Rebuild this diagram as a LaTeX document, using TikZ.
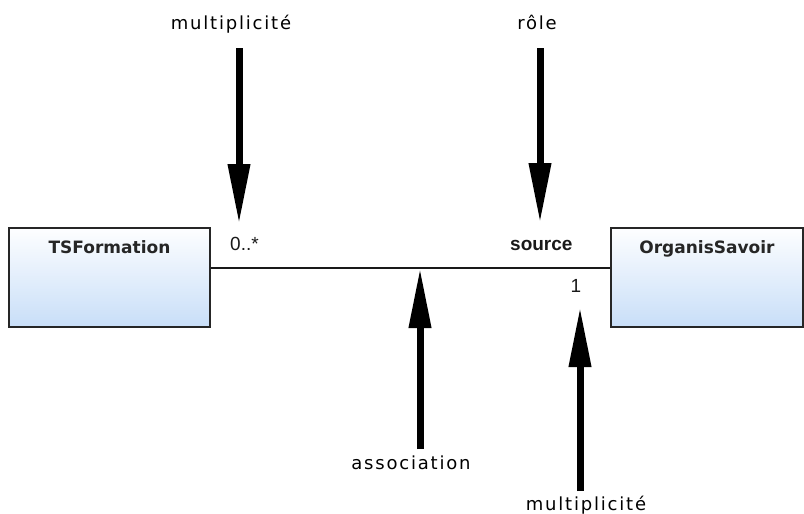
\documentclass[tikz,border=0pt]{standalone}
\usepackage{fontspec}
\setmainfont{DejaVu Sans}
\newfontfamily\notefont[LetterSpace=10]{DejaVu Sans}
\newfontfamily\endfont{Liberation Sans}
\usetikzlibrary{arrows.meta}
\definecolor{boxblue}{RGB}{200,222,248}
\tikzset{
  classbox/.style={draw=black!85, line width=1.5pt, rectangle, inner sep=0pt,
    top color=white!97!boxblue, bottom color=boxblue},
  classname/.style={font=\fontsize{17}{19}\selectfont\bfseries, text=black!85, anchor=north, inner sep=0pt},
  note/.style={font=\notefont\fontsize{18}{20}\selectfont, text=black, inner sep=0pt},
  endlabel/.style={font=\endfont\fontsize{19}{21}\selectfont, text=black!90, inner sep=0pt},
  rolelabel/.style={endlabel, font=\endfont\fontsize{19}{21}\selectfont\bfseries},
  bigarrow/.style={line width=7pt, -{Triangle[length=60pt,width=21pt]}},
  assoc/.style={line width=1.5pt, draw=black!90}
}
\begin{document}
\begin{tikzpicture}[x=1pt,y=1pt]
\useasboundingbox (0,0) rectangle (804,-514);
% classes
\node[classbox, minimum width=201pt, minimum height=99pt] (ts) at (109.5,-277.5) {};
\node[classbox, minimum width=192pt, minimum height=99pt] (os) at (707,-277.5) {};
\node[classname] (tsn) at ([yshift=-13pt]ts.north) {TSFormation};
\node[classname] (osn) at ([yshift=-13pt]os.north) {OrganisSavoir};
% association line
\coordinate (ac) at (420,-268);
\draw[assoc] (ts.east |- ac) -- (os.west |- ac);
% end labels
\node[endlabel, anchor=base west] (mult1) at (230,-250) {0..*};
\node[rolelabel, anchor=base west] (role1) at (510,-250) {source};
\node[endlabel, anchor=base] (mult2) at (576,-292) {1};
% annotation labels
\node[note, anchor=base] (n1) at (231,-30) {multiplicité};
\node[note, anchor=base] (n2) at (537,-30) {rôle};
\node[note, anchor=base] (n3) at (411,-469) {association};
\node[note, anchor=base] (n4) at (586,-510) {multiplicité};
% arrows
\coordinate (a1s) at (239,-48);  \coordinate (a1e) at (239,-224);
\coordinate (a2s) at (540,-48);  \coordinate (a2e) at (540,-223);
\coordinate (a3s) at (420,-449); \coordinate (a3e) at (ac);
\coordinate (a4s) at (580,-491); \coordinate (a4e) at (580,-307);
\draw[bigarrow] (a1s) -- (a1e);
\draw[bigarrow] (a2s) -- (a2e);
\draw[bigarrow] (a3s) -- (a3e);
\draw[bigarrow] (a4s) -- (a4e);
\end{tikzpicture}
\end{document}
